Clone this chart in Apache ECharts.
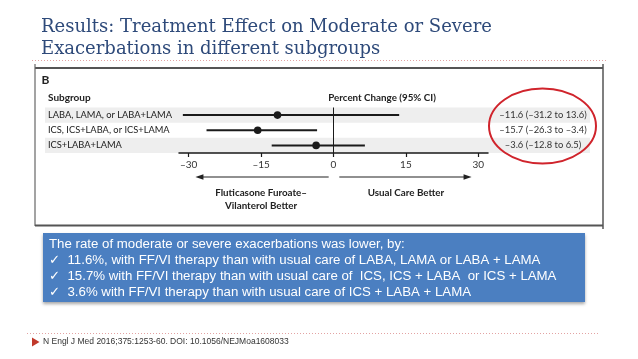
<!DOCTYPE html>
<html>
<head>
<meta charset="utf-8">
<script src="https://cdn.jsdelivr.net/npm/echarts@6/dist/echarts.min.js"></script>
<style>html,body{margin:0;padding:0;background:#fff;}#c{width:638px;height:359px;}</style>
</head>
<body>
<div id="c"></div>
<script>
// ---- data ----
const subgroups = ['LABA, LAMA, or LABA+LAMA', 'ICS, ICS+LABA, or ICS+LAMA', 'ICS+LABA+LAMA'];
const estimate = [-11.6, -15.7, -3.6];
const ciLow = [-31.2, -26.3, -12.8];
const ciHigh = [13.6, -3.4, 6.5];
const xTicks = [-30, -15, 0, 15, 30];
const titleText = 'Results: Treatment Effect on Moderate or Severe\nExacerbations in different subgroups';
const boxLines = [
  'The rate of moderate or severe exacerbations was lower, by:',
  '\u2713  11.6%, with FF/VI therapy than with usual care of LABA, LAMA or LABA + LAMA',
  '\u2713  15.7% with FF/VI therapy than with usual care of  ICS, ICS + LABA  or ICS + LAMA',
  '\u2713  3.6% with FF/VI therapy than with usual care of ICS + LABA + LAMA'
];
const citation = 'N Engl J Med 2016;375:1253-60. DOI: 10.1056/NEJMoa1608033';

const fmt = v => (v < 0 ? '\u2013' + Math.abs(v).toFixed(1) : v.toFixed(1));
const ciLabels = estimate.map((e, i) => fmt(e) + ' (' + fmt(ciLow[i]) + ' to ' + fmt(ciHigh[i]) + ')');
const FF = 'Lato, "Open Sans", sans-serif';

const chart = echarts.init(document.getElementById('c'), null, {renderer: 'canvas'});
const gridTop = 107.5, gridH = 45.5;

const option = {
  animation: false,
  title: {
    text: titleText, left: 36, top: 11,
    textStyle: {fontFamily: '"DejaVu Serif", serif', fontSize: 18, fontWeight: 'normal', color: '#2E4A7A', lineHeight: 22.5}
  },
  grid: [
    {left: 179, right: 150, top: gridTop, height: gridH},
    {left: 45, right: 48, top: gridTop, height: gridH}
  ],
  xAxis: [
    {
      type: 'value', gridIndex: 0, min: -32, max: 32,
      axisLine: {show: true, lineStyle: {color: '#1a1a1a', width: 1.5}},
      axisTick: {show: true, customValues: xTicks, length: 4, lineStyle: {color: '#1a1a1a', width: 1.2}},
      axisLabel: {customValues: xTicks, margin: 7, fontFamily: FF, fontSize: 10, color: '#333',
        formatter: v => (v < 0 ? '\u2013' + Math.abs(v) : String(v))},
      splitLine: {show: false}
    },
    {type: 'value', gridIndex: 1, show: false, min: 0, max: 1}
  ],
  yAxis: [
    {
      type: 'category', gridIndex: 0, data: subgroups, inverse: true,
      axisLine: {show: false}, axisTick: {show: false}, splitLine: {show: false},
      axisLabel: {align: 'left', margin: 131, fontFamily: FF, fontSize: 9.3, color: '#222'}
    },
    {
      type: 'category', gridIndex: 0, data: ciLabels, inverse: true, position: 'right',
      axisLine: {show: false}, axisTick: {show: false}, splitLine: {show: false},
      axisLabel: {align: 'center', margin: 55, fontFamily: FF, fontSize: 9.4, color: '#333'}
    },
    {
      type: 'category', gridIndex: 1, data: subgroups, inverse: true, show: false
    }
  ],
  series: [
    {
      // alternating row bands
      type: 'custom', xAxisIndex: 1, yAxisIndex: 2, z: 0, silent: true,
      data: subgroups.map((s, i) => [i]),
      encode: {y: 0},
      renderItem: function (params, api) {
        const idx = api.value(0);
        if (idx % 2 === 1) return null;
        const cs = params.coordSys;
        const c = api.coord([0, idx]);
        const h = api.size([0, 1])[1];
        return {type: 'rect', shape: {x: cs.x, y: c[1] - h / 2, width: cs.width, height: h}, style: {fill: '#eeeeee'}};
      }
    },
    {
      type: 'line', xAxisIndex: 0, yAxisIndex: 0, data: [], silent: true, z: 3,
      markLine: {silent: true, symbol: 'none', label: {show: false},
        lineStyle: {color: '#1a1a1a', width: 1, type: 'solid'}, data: [{xAxis: 0}]}
    },
    {
      type: 'custom', xAxisIndex: 0, yAxisIndex: 0, z: 5,
      data: subgroups.map((s, i) => [i, estimate[i], ciLow[i], ciHigh[i]]),
      encode: {y: 0, x: [1, 2, 3]},
      renderItem: function (params, api) {
        const idx = api.value(0);
        const p = api.coord([api.value(1), idx]);
        const a = api.coord([api.value(2), idx]);
        const b = api.coord([api.value(3), idx]);
        return {type: 'group', children: [
          {type: 'line', shape: {x1: a[0], y1: a[1], x2: b[0], y2: b[1]}, style: {stroke: '#1a1a1a', lineWidth: 2}},
          {type: 'circle', shape: {cx: p[0], cy: p[1], r: 3.8}, style: {fill: '#1a1a1a'}}
        ]};
      }
    }
  ]
};
chart.setOption(option);

// ---- decorations ----
const px = v => chart.convertToPixel({xAxisIndex: 0}, v);
const arrowY = 177;
function arrow(x1, x2) {
  const dir = x2 > x1 ? 1 : -1;
  return [
    {type: 'line', shape: {x1: x1, y1: arrowY, x2: x2 - dir * 6, y2: arrowY}, style: {stroke: '#222', lineWidth: 1.2}},
    {type: 'polygon', shape: {points: [[x2, arrowY], [x2 - dir * 8, arrowY - 2.8], [x2 - dir * 8, arrowY + 2.8]]}, style: {fill: '#222'}}
  ];
}
const boldTxt = {fontFamily: FF, fontSize: 9.8, fontWeight: 'bold', fill: '#222'};
const elements = [
  // dotted separators
  {type: 'line', shape: {x1: 32, y1: 60.5, x2: 607, y2: 60.5}, style: {stroke: '#e3a3a3', lineWidth: 1, lineDash: [1, 2]}},
  {type: 'line', shape: {x1: 27, y1: 333.5, x2: 600, y2: 333.5}, style: {stroke: '#e3a3a3', lineWidth: 1, lineDash: [1, 2]}},
  // figure frame
  {type: 'line', shape: {x1: 35, y1: 68, x2: 603, y2: 68}, style: {stroke: '#555', lineWidth: 2}},
  {type: 'line', shape: {x1: 35, y1: 64, x2: 35, y2: 226}, style: {stroke: '#666', lineWidth: 1.2}},
  {type: 'line', shape: {x1: 603, y1: 64, x2: 603, y2: 229}, style: {stroke: '#555', lineWidth: 1.5}},
  {type: 'line', shape: {x1: 35, y1: 225.5, x2: 603, y2: 225.5}, style: {stroke: '#555', lineWidth: 2}},
  // panel letter & headers
  {type: 'text', x: 41.5, y: 80, style: {text: 'B', fontFamily: FF, fontSize: 12, fontWeight: 'bold', fill: '#222', verticalAlign: 'middle'}},
  {type: 'text', x: 48, y: 97.5, style: {text: 'Subgroup', fontFamily: FF, fontSize: 10, fontWeight: 'bold', fill: '#222', verticalAlign: 'middle'}},
  {type: 'text', x: 382, y: 97.5, style: {text: 'Percent Change (95% CI)', fontFamily: FF, fontSize: 9.8, fontWeight: 'bold', fill: '#222', align: 'center', verticalAlign: 'middle'}},
  // arrows
  ...arrow(px(-1), px(-28.6)),
  ...arrow(px(1.2), px(28.6)),
  {type: 'text', x: px(-15), y: 193, style: Object.assign({text: 'Fluticasone Furoate\u2013', align: 'center', verticalAlign: 'middle'}, boldTxt)},
  {type: 'text', x: px(-15), y: 205.5, style: Object.assign({text: 'Vilanterol Better', align: 'center', verticalAlign: 'middle'}, boldTxt)},
  {type: 'text', x: px(15), y: 193, style: Object.assign({text: 'Usual Care Better', align: 'center', verticalAlign: 'middle'}, boldTxt)},
  // red highlight ellipse
  {type: 'ellipse', shape: {cx: 542.5, cy: 126, rx: 53.5, ry: 37.5}, style: {fill: 'none', stroke: '#d0242c', lineWidth: 2}},
  // blue summary box
  {type: 'rect', shape: {x: 43, y: 233, width: 542, height: 69}, style: {fill: '#4b7fc1', shadowBlur: 3, shadowOffsetY: 2, shadowColor: 'rgba(0,0,0,0.35)'}},
  ...boxLines.map((t, i) => ({type: 'text', x: 49, y: 244 + i * 16, style: {text: t, fontFamily: '"Liberation Sans", Arial, "DejaVu Sans", sans-serif', fontSize: 13.25, fill: '#fff', verticalAlign: 'middle'}})),
  // citation
  {type: 'polygon', shape: {points: [[32, 337.5], [39.5, 342], [32, 346.5]]}, style: {fill: '#c0392b'}},
  {type: 'text', x: 43, y: 342, style: {text: citation, fontFamily: '"Liberation Sans", Arial, sans-serif', fontSize: 8.5, fill: '#333', verticalAlign: 'middle'}}
];
chart.setOption({graphic: {elements: elements}});
</script>
</body>
</html>
